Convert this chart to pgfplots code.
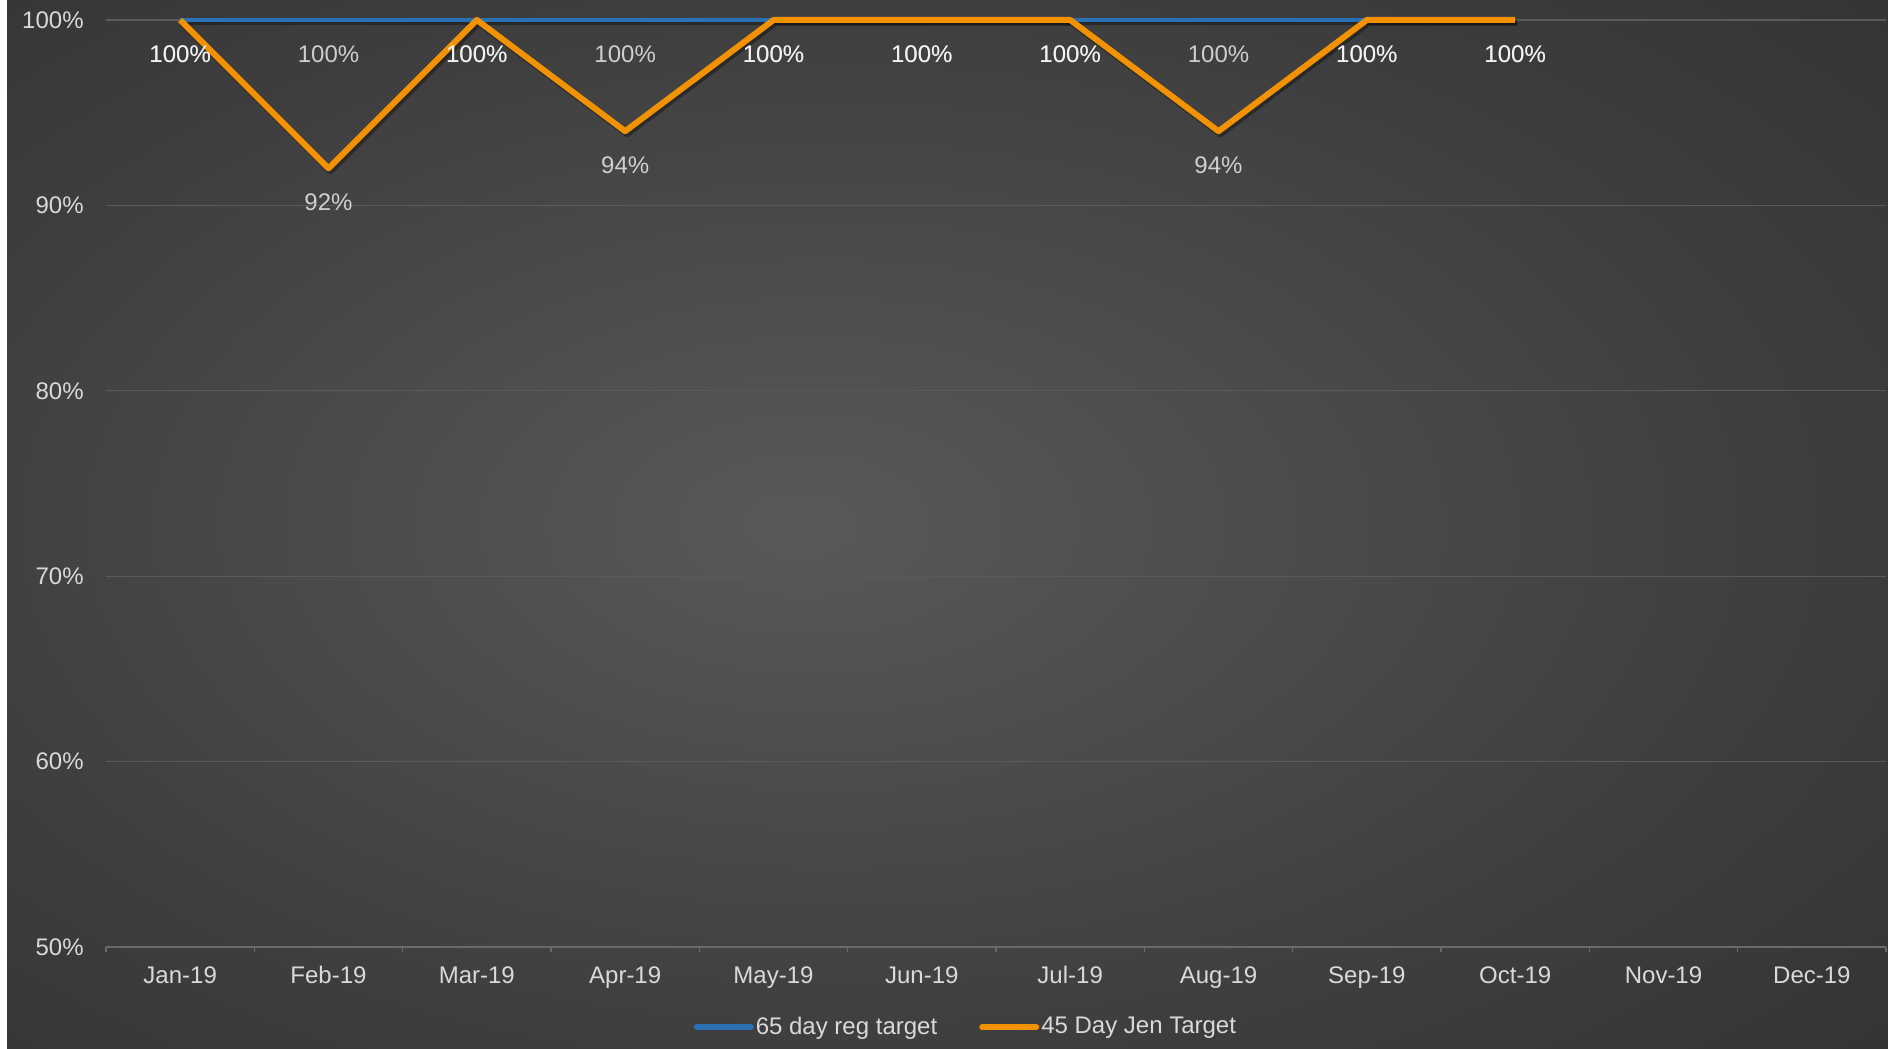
\documentclass[border=0pt]{standalone}
\usepackage{pgfplots}
\pgfplotsset{compat=1.18}
\usepackage{fontspec}
\setmainfont{Liberation Sans}
\definecolor{txt}{HTML}{D9D9D9}
\definecolor{gridc}{HTML}{5A5A5A}
\definecolor{axc}{HTML}{6A6A6A}
\definecolor{blueline}{RGB}{41,113,178}
\definecolor{orangeline}{RGB}{242,146,0}
\definecolor{bga}{HTML}{595959}
\definecolor{bgb}{HTML}{3E3E3E}
\definecolor{bgc}{HTML}{2A2A2A}
\definecolor{bgd}{HTML}{1F1F1F}
\pgfdeclareradialshading{bgshade}{\pgfpoint{-4bp}{0bp}}{color(0bp)=(bga); color(25bp)=(bgb); color(50bp)=(bgc); color(71bp)=(bgd)}
\pgfplotstableread{
x blue orange
0 100 100
1 100 92
2 100 100
3 100 94
4 100 100
5 100 100
6 100 100
7 100 94
8 100 100
9 100 100
}\datatab
\begin{document}
\begin{tikzpicture}
\useasboundingbox (0,0) rectangle (944bp,524.5bp);
\fill[white] (0,0) rectangle (3.5bp,524.5bp);
\shade[shading=bgshade] (3.5bp,0) rectangle (944bp,524.5bp);
\begin{axis}[
  at={(53bp,51bp)}, anchor=south west,
  scale only axis, width=890bp, height=463.5bp,
  xmin=-0.5, xmax=11.5, ymin=50, ymax=100,
  clip=false,
  axis x line*=bottom, axis y line*=left,
  y axis line style={draw=none},
  x axis line style={draw=axc, line width=0.7bp},
  xtick={0,...,11},
  xticklabels={Jan-19,Feb-19,Mar-19,Apr-19,May-19,Jun-19,Jul-19,Aug-19,Sep-19,Oct-19,Nov-19,Dec-19},
  minor xtick={-0.5,0.5,...,11.5},
  major tick length=0pt,
  minor tick length=2.5bp,
  tick align=outside,
  minor x tick style={draw=axc, line width=0.7bp},
  ytick={50,60,...,100},
  yticklabels={50\%,60\%,70\%,80\%,90\%,100\%},
  ymajorgrids,
  major grid style={draw=gridc, line width=0.6bp},
  tick label style={font=\fontsize{12bp}{14bp}\selectfont, text=txt},
  xticklabel style={anchor=base, yshift=-18.3bp},
  yticklabel style={anchor=east, inner sep=0pt, xshift=-11bp},
  /pgf/number format/assume math mode=true,
  legend style={at={(0.4831,-0.0863)}, anchor=center, legend columns=2,
    draw=none, fill=none, text=txt, font=\fontsize{12bp}{14bp}\selectfont,
    nodes={inner sep=1bp},
    /tikz/every even column/.append style={column sep=20bp}},
  legend image code/.code={\draw[#1, line width=3bp, line cap=round] (0bp,0bp) -- (27bp,0bp);},
]
\addplot[black, opacity=0.35, line width=2bp, xshift=1bp, yshift=-1.5bp, forget plot] table[x=x, y=blue] {\datatab};
\addplot[blueline, line width=2bp, line join=round,
  nodes near coords={\pgfmathprintnumber{\pgfplotspointmeta}\%},
  every node near coord/.append style={anchor=center, yshift=-17bp, font=\fontsize{12bp}{14bp}\selectfont, text=white, text opacity=0.75}]
  table[x=x, y=blue] {\datatab};
\addlegendentry{65 day reg target}
\addplot[black, opacity=0.35, line width=3bp, line join=round, xshift=1bp, yshift=-1.5bp, forget plot] table[x=x, y=orange] {\datatab};
\addplot[orangeline, line width=3bp, line join=round,
  nodes near coords={\pgfmathprintnumber{\pgfplotspointmeta}\%},
  every node near coord/.append style={anchor=center, yshift=-17bp, font=\fontsize{12bp}{14bp}\selectfont, text=white, text opacity=0.75}]
  table[x=x, y=orange] {\datatab};
\addlegendentry{45 Day Jen Target}
\end{axis}
\end{tikzpicture}
\end{document}
